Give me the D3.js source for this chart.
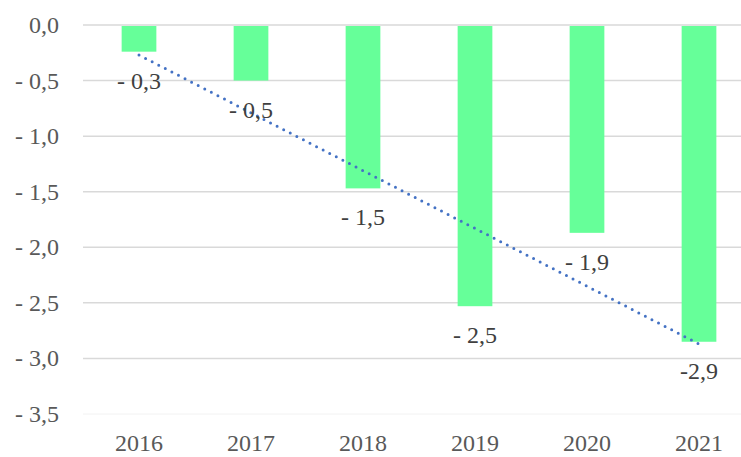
<!DOCTYPE html>
<meta charset="utf-8">
<title>Bars with trend</title>
<style>

body {
  margin: 0;
  background-color: white;
}

svg text {
  font-family: "Liberation Serif", "Times New Roman", Times, "Nimbus Roman", serif;
}

</style>
<body>
<script src="https://cdn.jsdelivr.net/npm/d3@7"></script>
<script>

var years = ["2016", "2017", "2018", "2019", "2020", "2021"],
    values = [-0.24, -0.5, -1.47, -2.53, -1.87, -2.85],
    labels = ["- 0,3", "- 0,5", "- 1,5", "- 2,5", "- 1,9", "-2,9"],
    trend = [-0.27, -2.87],
    ticks = [0, -0.5, -1, -1.5, -2, -2.5, -3, -3.5];

var width = 741,
    height = 457,
    left = 83,
    right = 741;

var svg = d3.select("body").append("svg")
    .attr("width", width)
    .attr("height", height);

var x = d3.scaleBand()
    .domain(years)
    .range([left, left + 112 * 6])
    .paddingInner(0.69)
    .paddingOuter(0.345);

var y = d3.scaleLinear()
    .domain([0, -3.5])
    .range([25, 414]);

function fmt(d) {
  var s = d3.format(".1f")(Math.abs(d)).replace(".", ",");
  return d < 0 ? "- " + s : s;
}

// gridlines
svg.selectAll("line.grid")
    .data(ticks.slice(0, -1))
  .enter().append("line")
    .attr("class", "grid")
    .attr("x1", left)
    .attr("x2", right)
    .attr("y1", function(d) { return y(d); })
    .attr("y2", function(d) { return y(d); })
    .style("stroke", "#d9d9d9")
    .style("stroke-width", 1.5);

svg.append("line")
    .attr("x1", left)
    .attr("x2", right)
    .attr("y1", y(-3.5))
    .attr("y2", y(-3.5))
    .style("stroke", "#f2f2f2")
    .style("stroke-width", 1);

// y tick labels
svg.selectAll("text.ytick")
    .data(ticks)
  .enter().append("text")
    .attr("class", "ytick")
    .attr("x", 59)
    .attr("y", function(d) { return y(d) + 8; })
    .attr("text-anchor", "end")
    .style("font-size", "24px")
    .style("fill", "#595959")
    .text(fmt);

// bars
svg.selectAll("rect")
    .data(values)
  .enter().append("rect")
    .attr("x", function(d, i) { return x(years[i]); })
    .attr("width", x.bandwidth())
    .attr("y", y(0) + 1)
    .attr("height", function(d) { return y(d) - y(0) - 1; })
    .style("fill", "#66ff99");

// trend line
svg.append("line")
    .attr("x1", x(years[0]) + x.bandwidth() / 2)
    .attr("x2", x(years[5]) + x.bandwidth() / 2)
    .attr("y1", y(trend[0]))
    .attr("y2", y(trend[1]))
    .style("stroke", "#4472c4")
    .style("stroke-width", 3)
    .style("stroke-linecap", "round")
    .style("stroke-dasharray", "0,7.4");

// value labels
svg.selectAll("text.val")
    .data(values)
  .enter().append("text")
    .attr("class", "val")
    .attr("x", function(d, i) { return x(years[i]) + x.bandwidth() / 2; })
    .attr("y", function(d) { return y(d) + 37; })
    .attr("text-anchor", "middle")
    .style("font-size", "24px")
    .style("fill", "#404040")
    .text(function(d, i) { return labels[i]; });

// x labels
svg.selectAll("text.xtick")
    .data(years)
  .enter().append("text")
    .attr("class", "xtick")
    .attr("x", function(d) { return x(d) + x.bandwidth() / 2; })
    .attr("y", 451)
    .attr("text-anchor", "middle")
    .style("font-size", "24px")
    .style("fill", "#595959")
    .text(function(d) { return d; });

</script>
